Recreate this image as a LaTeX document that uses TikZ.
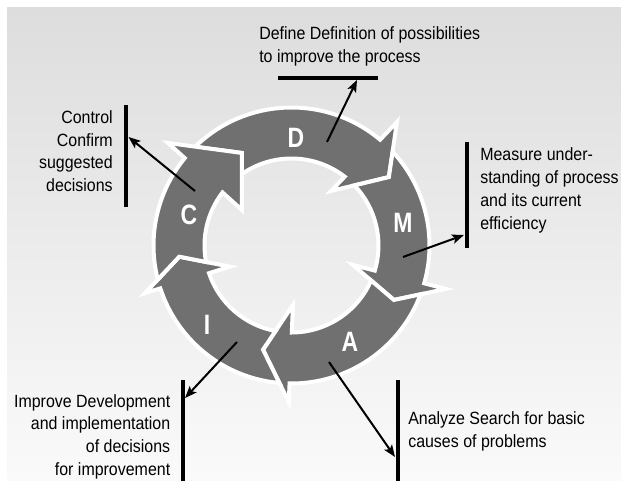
\documentclass[tikz,border=0pt]{standalone}
\usepackage{fontspec}
\setmainfont{Liberation Sans}[FakeStretch=0.9]
\newfontfamily\letterfont{Liberation Sans}[FakeStretch=0.82]
\usetikzlibrary{arrows.meta}
\definecolor{ringgray}{RGB}{112,112,112}
\definecolor{bgtop}{RGB}{221,221,221}
\definecolor{bgbot}{RGB}{250,250,250}
\begin{document}
\begin{tikzpicture}[x=0.75pt,y=-0.75pt,
  ringarrow/.style={fill=ringgray,draw=white,line width=3pt,line join=miter},
  letter/.style={text=white,font=\letterfont\bfseries\fontsize{21}{21}\selectfont,inner sep=0pt},
  txt/.style={font=\fontsize{13.3}{17.1}\selectfont,inner sep=0pt,text=black},
  bar/.style={line width=3pt,black},
  conn/.style={line width=1.5pt,black,-{Stealth[length=9pt,width=7pt,inset=2pt]}}]
\useasboundingbox (0,0) rectangle (621,481);
\fill[white] (0,0) rectangle (621,481);
\shade[top color=bgtop,bottom color=bgbot] (7,8) rectangle (621,481);

% ring of five arrows
\begin{scope}[shift={(291.5,245.5)},y=0.75pt]
% D
\path[ringarrow] (134.3:138) arc[start angle=134.3,end angle=50.05,radius=138]
  -- (49.5:162.4) -- (35.1:119) -- (54.1:67.3) -- (52.3:87)
  arc[start angle=52.3,end angle=124.75,radius=87] -- (118.2:105) -- cycle;
% M
\path[ringarrow] (42.86:138) arc[start angle=42.86,end angle=-15.9,radius=138]
  -- (-15.7:160.5) -- (-28:116) -- (-17.6:64.5) -- (-16.77:87)
  arc[start angle=-16.77,end angle=43.69,radius=87] -- (35.1:119) -- cycle;
% A
\path[ringarrow] (-20.72:138) arc[start angle=-20.72,end angle=-90.8,radius=138]
  -- (-91:156.5) -- (-105.3:108) -- (-88.6:59.5) -- (-89.8:87)
  arc[start angle=-89.8,end angle=-23.73,radius=87] -- (-28:116) -- cycle;
% I
\path[ringarrow] (-95.03:138) arc[start angle=-95.03,end angle=-161.91,radius=138]
  -- (-162:154) -- (-174.3:112.8) -- (-161:65) -- (-161.43:87)
  arc[start angle=-161.43,end angle=-100.56,radius=87] -- (-105.3:108) -- cycle;
% C
\path[ringarrow] (-165.71:138) arc[start angle=-165.71,end angle=-219.3,radius=138]
  -- (140.3:160.5) -- (118.2:105) -- (144.4:61) -- (142.45:87)
  arc[start angle=-217.55,end angle=-169.08,radius=87] -- (-174.3:112.8) -- cycle;
\end{scope}

% letters
\node[letter] (lD) at (296,138) {D};
\node[letter] (lM) at (403,223) {M};
\node[letter] (lA) at (350,342) {A};
\node[letter] (lI) at (207,325) {I};
\node[letter] (lC) at (189,215) {C};

% bars
\coordinate (bDa) at (278,78);  \coordinate (bDb) at (378,78);
\coordinate (bCa) at (126,105); \coordinate (bCb) at (126,207);
\coordinate (bMa) at (466.5,142); \coordinate (bMb) at (466.5,248);
\coordinate (bIa) at (182.5,380); \coordinate (bIb) at (182.5,481);
\coordinate (bAa) at (397.5,380); \coordinate (bAb) at (397.5,481);
\draw[bar] (bDa) -- (bDb);
\draw[bar] (bCa) -- (bCb);
\draw[bar] (bMa) -- (bMb);
\draw[bar] (bIa) -- (bIb);
\draw[bar] (bAa) -- (bAb);

% connectors
\coordinate (sD) at (327,142); \coordinate (tD) at (357,80);
\coordinate (sC) at (195,191); \coordinate (tC) at (128.5,137);
\coordinate (sM) at (403,257); \coordinate (tM) at (464,235);
\coordinate (sI) at (237,342); \coordinate (tI) at (185,398);
\coordinate (sA) at (329,362); \coordinate (tA) at (395,457);
\draw[conn] (sD) -- (tD);
\draw[conn] (sC) -- (tC);
\draw[conn] (sM) -- (tM);
\draw[conn] (sI) -- (tI);
\draw[conn] (sA) -- (tA);

% labels (anchored at the baseline of the last line)
\node[txt,anchor=base west,align=left] (tDefine) at (259,62.3)
  {Define Definition of possibilities\\to improve the process};
\node[txt,anchor=base east,align=right] (tControl) at (113,191.7)
  {Control\\Confirm\\suggested\\decisions};
\node[txt,anchor=base west,align=left] (tMeasure) at (480,229.1)
  {Measure under-\\standing of process\\and its current\\efficiency};
\node[txt,anchor=base east,align=right] (tImprove) at (170.5,475.5)
  {Improve Development\\and implementation\\of decisions\\for improvement};
\node[txt,anchor=base west,align=left] (tAnalyze) at (408,447.5)
  {Analyze Search for basic\\causes of problems};
\end{tikzpicture}
\end{document}
